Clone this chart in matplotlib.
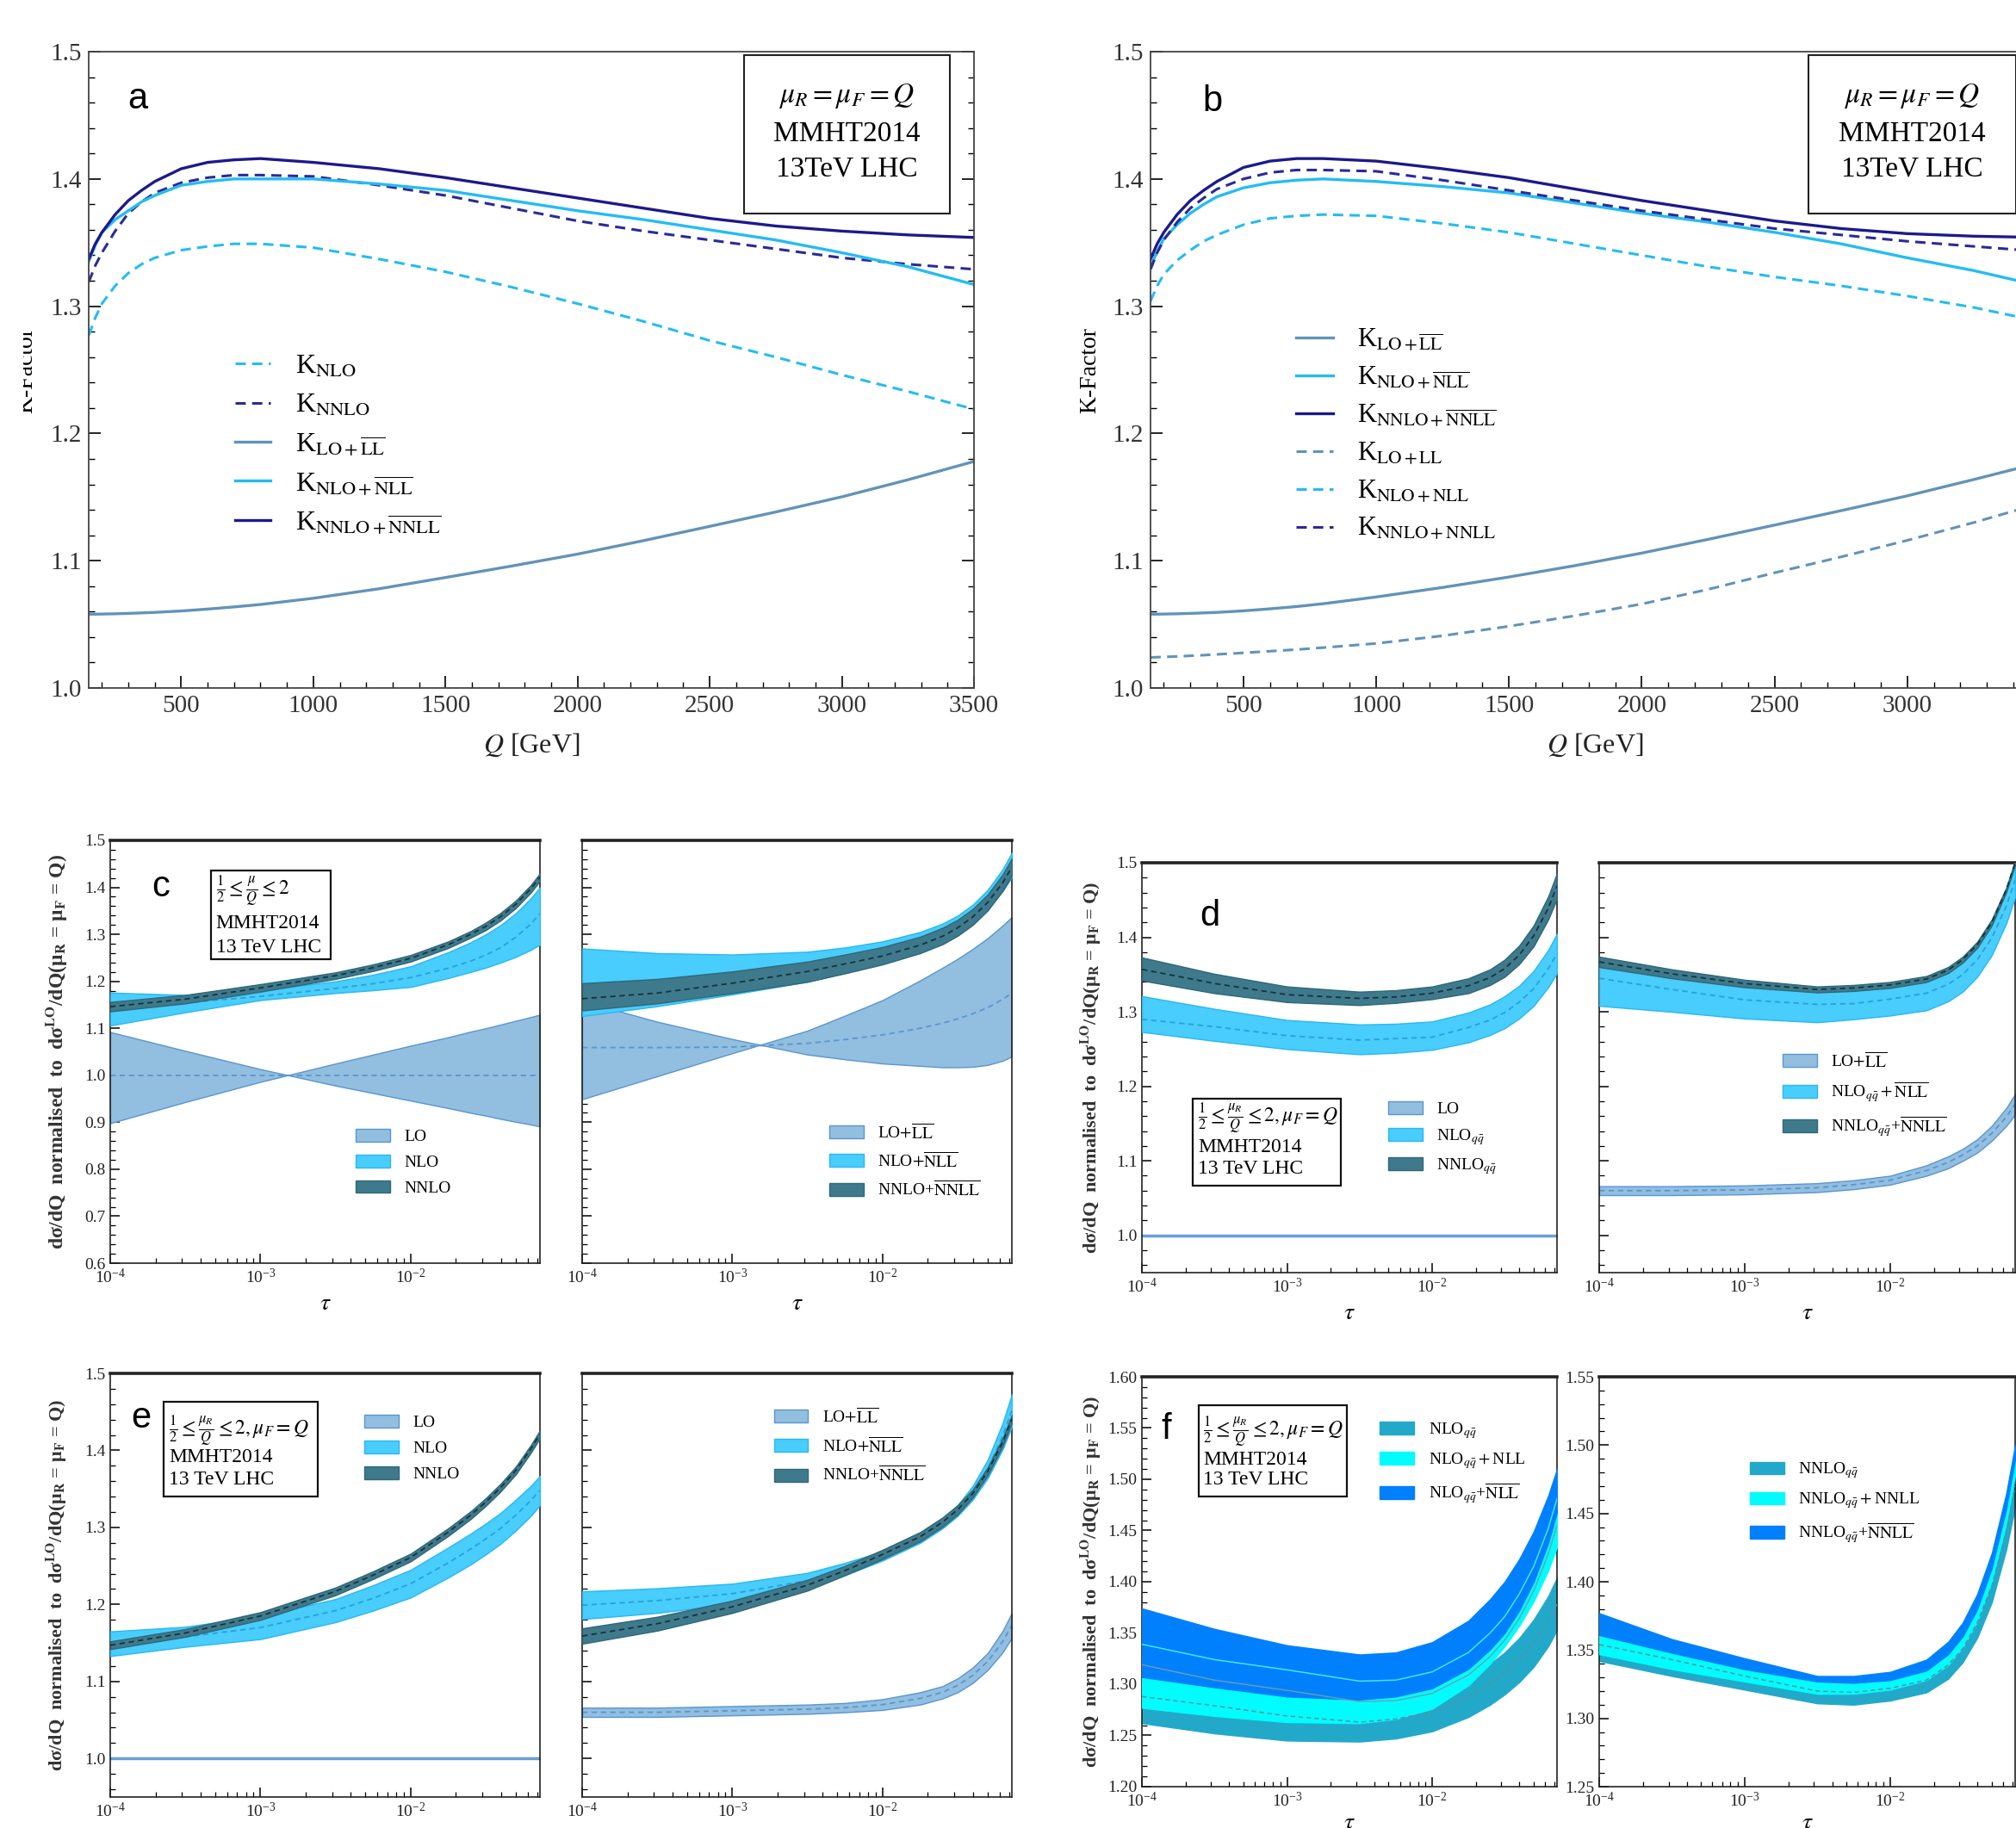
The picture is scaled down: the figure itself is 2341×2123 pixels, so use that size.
import numpy as np
import matplotlib
matplotlib.use("Agg")
import matplotlib.pyplot as plt
from matplotlib.patches import Rectangle
from matplotlib.ticker import MultipleLocator, LogLocator, NullFormatter, FormatStrFormatter
from matplotlib.transforms import Bbox

plt.rcParams['font.family'] = ['Liberation Serif', 'DejaVu Serif']
plt.rcParams['mathtext.fontset'] = 'stix'

W, H = 2341, 2123

# ---------------- panels a / b : K-factor vs Q ----------------
Q = [150, 175, 200, 250, 300, 350, 400, 500, 600, 700, 800, 1000, 1250, 1500, 1750,
     2000, 2250, 2500, 2750, 3000, 3250, 3500]

A_K_NLO = [1.277, 1.291, 1.302, 1.316, 1.326, 1.333, 1.338, 1.344, 1.347, 1.349, 1.349, 1.346,
           1.337, 1.327, 1.315, 1.302, 1.288, 1.273, 1.260, 1.246, 1.233, 1.219]
A_K_NNLO = [1.319, 1.332, 1.342, 1.359, 1.373, 1.382, 1.389, 1.397, 1.401, 1.403, 1.403, 1.402,
            1.395, 1.387, 1.377, 1.367, 1.359, 1.352, 1.345, 1.338, 1.333, 1.329]
A_K_LO_LL = [1.0580, 1.0580, 1.0581, 1.0583, 1.0586, 1.0590, 1.0594, 1.0605, 1.0620, 1.0637,
             1.0656, 1.0705, 1.0780, 1.0868, 1.0958, 1.1052, 1.1158, 1.1270, 1.1383, 1.1502,
             1.1636, 1.1780]
A_K_NLO_NLL = [1.335, 1.348, 1.358, 1.368, 1.375, 1.382, 1.387, 1.395, 1.398, 1.400, 1.400, 1.400,
               1.396, 1.391, 1.383, 1.375, 1.368, 1.360, 1.352, 1.342, 1.331, 1.317]
A_K_NNLO_NNLL = [1.337, 1.349, 1.358, 1.372, 1.383, 1.391, 1.398, 1.408, 1.413, 1.415, 1.416, 1.413,
                 1.408, 1.401, 1.393, 1.385, 1.377, 1.369, 1.363, 1.359, 1.356, 1.354]

B_K_LO_LLbar = [1.0580, 1.0580, 1.0581, 1.0583, 1.0586, 1.0590, 1.0594, 1.0606, 1.0622, 1.0640,
                1.0662, 1.0715, 1.0790, 1.0872, 1.0962, 1.1060, 1.1168, 1.1280, 1.1393, 1.1510,
                1.1638, 1.1770]
B_K_NLO_NLLbar = [1.331, 1.343, 1.353, 1.364, 1.373, 1.380, 1.386, 1.393, 1.397, 1.399, 1.400, 1.398,
                  1.394, 1.389, 1.381, 1.373, 1.366, 1.358, 1.349, 1.338, 1.328, 1.316]
B_K_NNLO_NNLLbar = [1.337, 1.349, 1.358, 1.372, 1.383, 1.391, 1.398, 1.409, 1.414, 1.416, 1.416, 1.414,
                    1.408, 1.401, 1.392, 1.383, 1.375, 1.367, 1.361, 1.357, 1.355, 1.354]
B_K_LO_LL = [1.0240, 1.0242, 1.0244, 1.0248, 1.0253, 1.0258, 1.0264, 1.0276, 1.0289, 1.0302,
             1.0317, 1.0350, 1.0410, 1.0485, 1.0568, 1.0660, 1.0775, 1.0905, 1.1030, 1.1160,
             1.1300, 1.1450]
B_K_NLO_NLL = [1.304, 1.316, 1.325, 1.336, 1.344, 1.351, 1.356, 1.364, 1.369, 1.371, 1.372, 1.371,
               1.365, 1.358, 1.349, 1.340, 1.331, 1.323, 1.316, 1.308, 1.299, 1.288]
B_K_NNLO_NNLL = [1.329, 1.342, 1.352, 1.366, 1.377, 1.385, 1.392, 1.400, 1.405, 1.407, 1.407, 1.406,
                 1.399, 1.391, 1.383, 1.375, 1.368, 1.361, 1.356, 1.351, 1.347, 1.343]

# ---------------- panels c-f : ratio vs tau ----------------
TAU = [1.0e-4, 3.16e-4, 1.0e-3, 3.16e-3, 5.62e-3, 1.0e-2, 1.78e-2, 2.51e-2, 3.16e-2,
       3.98e-2, 5.01e-2, 6.31e-2, 7.25e-2]

# c, fixed order
C_LO_A = [1.092, 1.052, 1.013, 0.978, 0.962, 0.946, 0.930, 0.920, 0.914, 0.907, 0.901, 0.895, 0.891]
C_LO_B = [0.898, 0.943, 0.986, 1.025, 1.044, 1.063, 1.081, 1.093, 1.100, 1.108, 1.116, 1.124, 1.129]
C_LO_MID = [1.0] * 13
C_NLO_LO = [1.106, 1.134, 1.160, 1.175, 1.181, 1.188, 1.207, 1.220, 1.229, 1.240, 1.252, 1.267, 1.278]
C_NLO_HI = [1.176, 1.171, 1.181, 1.200, 1.214, 1.232, 1.262, 1.283, 1.300, 1.320, 1.345, 1.377, 1.400]
C_NLO_MID = [1.141, 1.154, 1.168, 1.185, 1.195, 1.208, 1.228, 1.243, 1.256, 1.272, 1.294, 1.322, 1.344]
C_NNLO_LO = [1.136, 1.153, 1.178, 1.205, 1.222, 1.242, 1.271, 1.293, 1.309, 1.330, 1.356, 1.389, 1.414]
C_NNLO_HI = [1.156, 1.171, 1.194, 1.219, 1.236, 1.256, 1.285, 1.307, 1.325, 1.346, 1.372, 1.405, 1.430]
C_NNLO_MID = [1.146, 1.162, 1.186, 1.212, 1.229, 1.249, 1.278, 1.300, 1.317, 1.338, 1.364, 1.397, 1.422]
# c, resummed
CR_LO_A = [1.158, 1.114, 1.077, 1.044, 1.034, 1.025, 1.020, 1.017, 1.017, 1.018, 1.022, 1.031, 1.040]
CR_LO_B = [0.949, 0.998, 1.047, 1.095, 1.127, 1.160, 1.202, 1.229, 1.248, 1.269, 1.292, 1.319, 1.337]
CR_LO_MID = [1.059, 1.059, 1.060, 1.068, 1.076, 1.086, 1.100, 1.111, 1.120, 1.131, 1.144, 1.162, 1.175]
CR_NLO_LO = [1.126, 1.147, 1.172, 1.199, 1.218, 1.239, 1.265, 1.286, 1.303, 1.325, 1.354, 1.393, 1.422]
CR_NLO_HI = [1.270, 1.260, 1.257, 1.263, 1.272, 1.285, 1.305, 1.323, 1.340, 1.363, 1.395, 1.439, 1.474]
CR_NLO_MID = [1.188, 1.196, 1.205, 1.222, 1.236, 1.252, 1.275, 1.295, 1.313, 1.337, 1.368, 1.411, 1.445]
CR_NNLO_LO = [1.138, 1.153, 1.175, 1.199, 1.217, 1.236, 1.260, 1.279, 1.297, 1.320, 1.351, 1.393, 1.425]
CR_NNLO_HI = [1.196, 1.205, 1.221, 1.242, 1.257, 1.273, 1.295, 1.314, 1.331, 1.354, 1.385, 1.428, 1.462]
CR_NNLO_MID = [1.163, 1.175, 1.196, 1.221, 1.237, 1.254, 1.277, 1.296, 1.314, 1.337, 1.368, 1.410, 1.443]

# d, fixed order (qqbar)
D_LO_LO = [0.999] * 13
D_LO_HI = [1.001] * 13
D_NLO_LO = [1.273, 1.261, 1.250, 1.243, 1.245, 1.249, 1.259, 1.269, 1.278, 1.291, 1.308, 1.333, 1.352]
D_NLO_HI = [1.321, 1.304, 1.289, 1.283, 1.284, 1.287, 1.299, 1.310, 1.321, 1.335, 1.355, 1.383, 1.405]
D_NLO_MID = [1.290, 1.280, 1.268, 1.262, 1.264, 1.266, 1.279, 1.289, 1.299, 1.313, 1.331, 1.358, 1.378]
D_NNLO_LO = [1.342, 1.325, 1.313, 1.309, 1.312, 1.317, 1.325, 1.336, 1.347, 1.364, 1.388, 1.424, 1.452]
D_NNLO_HI = [1.373, 1.351, 1.334, 1.327, 1.329, 1.334, 1.345, 1.357, 1.370, 1.389, 1.416, 1.455, 1.486]
D_NNLO_MID = [1.357, 1.338, 1.323, 1.318, 1.320, 1.325, 1.335, 1.346, 1.358, 1.376, 1.402, 1.439, 1.469]
# d, resummed
DR_LO_LO = [1.054, 1.054, 1.055, 1.058, 1.062, 1.068, 1.080, 1.090, 1.100, 1.111, 1.127, 1.147, 1.162]
DR_LO_HI = [1.066, 1.066, 1.067, 1.070, 1.074, 1.080, 1.094, 1.106, 1.116, 1.129, 1.147, 1.171, 1.190]
DR_LO_MID = [1.060, 1.060, 1.061, 1.064, 1.068, 1.074, 1.087, 1.098, 1.108, 1.120, 1.137, 1.159, 1.176]
DR_NLO_LO = [1.308, 1.300, 1.291, 1.286, 1.290, 1.295, 1.302, 1.314, 1.327, 1.347, 1.376, 1.419, 1.454]
DR_NLO_HI = [1.373, 1.351, 1.338, 1.332, 1.334, 1.338, 1.347, 1.360, 1.373, 1.393, 1.422, 1.465, 1.499]
DR_NLO_MID = [1.345, 1.330, 1.316, 1.310, 1.311, 1.317, 1.325, 1.337, 1.350, 1.370, 1.399, 1.442, 1.477]
DR_NNLO_LO = [1.360, 1.345, 1.333, 1.326, 1.328, 1.332, 1.340, 1.352, 1.366, 1.386, 1.416, 1.461, 1.497]
DR_NNLO_HI = [1.374, 1.357, 1.343, 1.334, 1.336, 1.340, 1.348, 1.360, 1.374, 1.394, 1.424, 1.467, 1.503]
DR_NNLO_MID = [1.367, 1.351, 1.338, 1.330, 1.332, 1.336, 1.344, 1.356, 1.370, 1.390, 1.420, 1.464, 1.500]

# e, fixed order
E_NLO_LO = [1.133, 1.145, 1.155, 1.177, 1.192, 1.209, 1.235, 1.252, 1.265, 1.279, 1.296, 1.315, 1.329]
E_NLO_HI = [1.165, 1.171, 1.185, 1.207, 1.225, 1.245, 1.274, 1.292, 1.305, 1.319, 1.336, 1.354, 1.367]
E_NLO_MID = [1.149, 1.158, 1.170, 1.192, 1.208, 1.227, 1.254, 1.272, 1.285, 1.299, 1.316, 1.335, 1.348]
E_NNLO_LO = [1.142, 1.158, 1.180, 1.212, 1.233, 1.256, 1.289, 1.311, 1.328, 1.347, 1.369, 1.397, 1.416]
E_NNLO_HI = [1.152, 1.168, 1.190, 1.222, 1.243, 1.266, 1.299, 1.321, 1.338, 1.357, 1.379, 1.407, 1.426]
E_NNLO_MID = [1.147, 1.163, 1.185, 1.217, 1.238, 1.261, 1.294, 1.316, 1.333, 1.352, 1.374, 1.402, 1.421]
# e, resummed
ER_LO_LO = [1.054, 1.054, 1.056, 1.058, 1.060, 1.063, 1.070, 1.078, 1.086, 1.098, 1.115, 1.138, 1.157]
ER_LO_HI = [1.066, 1.066, 1.068, 1.070, 1.072, 1.077, 1.086, 1.094, 1.104, 1.118, 1.137, 1.166, 1.189]
ER_LO_MID = [1.060, 1.060, 1.062, 1.064, 1.066, 1.070, 1.078, 1.086, 1.095, 1.108, 1.126, 1.152, 1.173]
ER_NLO_LO = [1.181, 1.189, 1.201, 1.221, 1.238, 1.257, 1.280, 1.299, 1.315, 1.336, 1.364, 1.402, 1.431]
ER_NLO_HI = [1.217, 1.221, 1.227, 1.241, 1.254, 1.269, 1.291, 1.311, 1.329, 1.354, 1.388, 1.436, 1.473]
ER_NLO_MID = [1.199, 1.205, 1.214, 1.231, 1.246, 1.263, 1.286, 1.305, 1.322, 1.345, 1.376, 1.419, 1.452]
ER_NNLO_LO = [1.149, 1.166, 1.189, 1.218, 1.238, 1.259, 1.282, 1.301, 1.317, 1.339, 1.368, 1.406, 1.436]
ER_NNLO_HI = [1.169, 1.184, 1.205, 1.232, 1.250, 1.271, 1.294, 1.313, 1.329, 1.349, 1.378, 1.416, 1.446]
ER_NNLO_MID = [1.159, 1.175, 1.197, 1.225, 1.244, 1.265, 1.288, 1.307, 1.323, 1.344, 1.373, 1.411, 1.441]

# f, NLO_qqbar with / without resummation
F_FO_LO = [1.262, 1.252, 1.245, 1.244, 1.247, 1.254, 1.268, 1.280, 1.290, 1.302, 1.317, 1.337, 1.353]
F_FO_HI = [1.314, 1.306, 1.293, 1.283, 1.285, 1.292, 1.307, 1.320, 1.331, 1.345, 1.363, 1.386, 1.404]
F_FO_MID = [1.288, 1.279, 1.269, 1.263, 1.266, 1.273, 1.288, 1.300, 1.311, 1.324, 1.340, 1.362, 1.378]
F_RS_LO = [1.277, 1.269, 1.263, 1.262, 1.266, 1.276, 1.299, 1.320, 1.337, 1.357, 1.381, 1.411, 1.434]
F_RS_HI = [1.345, 1.330, 1.315, 1.305, 1.305, 1.310, 1.328, 1.348, 1.364, 1.388, 1.416, 1.454, 1.476]
F_RS_MID = [1.319, 1.304, 1.294, 1.283, 1.284, 1.291, 1.309, 1.327, 1.343, 1.364, 1.391, 1.427, 1.455]
F_RB_LO = [1.307, 1.297, 1.288, 1.285, 1.288, 1.296, 1.315, 1.334, 1.350, 1.372, 1.400, 1.438, 1.468]
F_RB_HI = [1.374, 1.354, 1.338, 1.329, 1.331, 1.341, 1.362, 1.383, 1.400, 1.422, 1.449, 1.484, 1.510]
F_RB_MID = [1.339, 1.324, 1.314, 1.303, 1.304, 1.312, 1.331, 1.350, 1.366, 1.388, 1.415, 1.452, 1.481]
# f, NNLO_qqbar
FR_FO_LO = [1.342, 1.331, 1.321, 1.311, 1.310, 1.313, 1.319, 1.329, 1.341, 1.359, 1.385, 1.424, 1.455]
FR_FO_HI = [1.366, 1.355, 1.341, 1.329, 1.328, 1.331, 1.338, 1.349, 1.362, 1.381, 1.410, 1.451, 1.485]
FR_FO_MID = [1.354, 1.343, 1.331, 1.320, 1.319, 1.322, 1.328, 1.339, 1.351, 1.370, 1.397, 1.437, 1.470]
FR_RS_LO = [1.347, 1.336, 1.327, 1.318, 1.318, 1.321, 1.328, 1.339, 1.352, 1.371, 1.400, 1.443, 1.478]
FR_RS_HI = [1.366, 1.352, 1.340, 1.330, 1.330, 1.332, 1.340, 1.352, 1.366, 1.386, 1.416, 1.460, 1.495]
FR_RB_LO = [1.361, 1.348, 1.336, 1.327, 1.326, 1.328, 1.335, 1.347, 1.360, 1.380, 1.410, 1.454, 1.490]
FR_RB_HI = [1.377, 1.358, 1.344, 1.331, 1.331, 1.334, 1.343, 1.356, 1.370, 1.391, 1.421, 1.465, 1.500]

# colours
C_LIGHT = '#24bcf2'
C_NAVY = '#2b2a98'
C_NAVY_D = '#1c1a8a'
C_STEEL = '#6293b8'
LO_FILL, LO_EDGE = '#92bee0', '#5a96cf'
NLO_FILL, NLO_EDGE = '#48cdfc', '#2ab8f0'
NNLO_FILL, NNLO_EDGE = '#3e7a8c', '#2f6878'
F_TEAL, F_CYAN, F_BLUE = '#22a9c9', '#00fcfc', '#0080fc'

YLAB = ('dσ/dQ  normalised  to  dσ$^{\\mathbf{LO}}$/dQ(μ$_{\\mathbf{R}}$ = μ$_{\\mathbf{F}}$ = Q)')

fig = plt.figure(figsize=(W / 100, H / 100), dpi=100)


def axes_px(x0, y0, x1, y1):
    return fig.add_axes([x0 / W, 1 - y1 / H, (x1 - x0) / W, (y1 - y0) / H])


def style_k(ax):
    ax.set_xlim(150, 3500)
    ax.set_ylim(1.0, 1.5)
    ax.xaxis.set_major_locator(MultipleLocator(500))
    ax.xaxis.set_minor_locator(MultipleLocator(100))
    ax.yaxis.set_major_locator(MultipleLocator(0.1))
    ax.yaxis.set_minor_locator(MultipleLocator(0.02))
    ax.yaxis.set_major_formatter(FormatStrFormatter('%.1f'))
    ax.tick_params(which='both', direction='in', right=True, labelsize=21,
                   labelcolor='#333333', pad=6)
    ax.tick_params(which='major', length=10, width=1.2)
    ax.tick_params(which='minor', length=5, width=1.0)
    for s in ax.spines.values():
        s.set_linewidth(1.3)
        s.set_color('#444444')
    ax.set_xlabel(r'$Q$ [GeV]', fontsize=23, labelpad=12, color='#222222')


def info_k(ax, letter, lx, ly):
    ax.add_patch(Rectangle((0.740, 0.746), 0.233, 0.249, transform=ax.transAxes,
                           fc='white', ec='#222222', lw=1.5, zorder=6))
    for t, yy in zip([r'$\mu_R = \mu_F = Q$', 'MMHT2014', '13TeV LHC'], [0.930, 0.871, 0.816]):
        ax.text(0.856, yy, t, transform=ax.transAxes, fontsize=24, ha='center', va='center', zorder=7)
    ax.text(lx, ly, letter, transform=ax.transAxes, fontsize=30, family='Liberation Sans',
            ha='center', va='center')


def dashed(ax, y, color, label):
    ax.plot(Q, y, color=color, lw=2.2, dashes=(3.9, 2.4), label=label)


def solid(ax, y, color, label):
    ax.plot(Q, y, color=color, lw=2.4, label=label)


# panel a
ax = axes_px(103, 60, 1131, 799)
style_k(ax)
dashed(ax, A_K_NLO, C_LIGHT, r'K$_{\rm NLO}$')
dashed(ax, A_K_NNLO, C_NAVY, r'K$_{\rm NNLO}$')
solid(ax, A_K_LO_LL, C_STEEL, r'K$_{\rm LO+\overline{LL}}$')
solid(ax, A_K_NLO_NLL, C_LIGHT, r'K$_{\rm NLO+\overline{NLL}}$')
solid(ax, A_K_NNLO_NNLL, C_NAVY_D, r'K$_{\rm NNLO+\overline{NNLL}}$')
ax.legend(loc='upper left', bbox_to_anchor=(0.165, 0.525), frameon=False, fontsize=23,
          handlelength=1.3, handletextpad=0.9, labelspacing=0.5, borderpad=0, borderaxespad=0)
info_k(ax, 'a', 0.055, 0.926)
kf = fig.text(31 / W, 1 - 430 / H, 'K-Factor', rotation=90, ha='center', va='center', fontsize=20)
kf.set_clip_box(Bbox.from_extents(27, 0, W, H))

# panel b
ax = axes_px(1336, 60, 2369, 799)
style_k(ax)
solid(ax, B_K_LO_LLbar, C_STEEL, r'K$_{\rm LO+\overline{LL}}$')
solid(ax, B_K_NLO_NLLbar, C_LIGHT, r'K$_{\rm NLO+\overline{NLL}}$')
solid(ax, B_K_NNLO_NNLLbar, C_NAVY_D, r'K$_{\rm NNLO+\overline{NNLL}}$')
dashed(ax, B_K_LO_LL, C_STEEL, r'K$_{\rm LO+LL}$')
dashed(ax, B_K_NLO_NLL, C_LIGHT, r'K$_{\rm NLO+NLL}$')
dashed(ax, B_K_NNLO_NNLL, C_NAVY, r'K$_{\rm NNLO+NNLL}$')
ax.legend(loc='upper left', bbox_to_anchor=(0.164, 0.567), frameon=False, fontsize=22,
          handlelength=1.4, handletextpad=0.9, labelspacing=0.45, borderpad=0, borderaxespad=0)
info_k(ax, 'b', 0.070, 0.922)
ax.set_ylabel('K-Factor', fontsize=20)
ax.yaxis.set_label_coords(-0.056, 0.5)


# ---------------- helpers for c-f ----------------
def style_tau(ax, ylim, major, minor, fmt, labelleft=True, ylabel=False, ylab_fs=16,
              ylab_x=-0.096, xlabel=True, xpad=6):
    ax.set_xscale('log')
    ax.set_xlim(1e-4, 0.0725)
    ax.set_ylim(*ylim)
    ax.xaxis.set_major_locator(LogLocator(base=10, numticks=10))
    ax.xaxis.set_minor_locator(LogLocator(base=10, subs=np.arange(2, 10), numticks=10))
    ax.xaxis.set_minor_formatter(NullFormatter())
    ax.yaxis.set_major_locator(MultipleLocator(major))
    ax.yaxis.set_minor_locator(MultipleLocator(minor))
    ax.yaxis.set_major_formatter(FormatStrFormatter(fmt))
    ax.tick_params(which='both', direction='in', labelsize=14, labelleft=labelleft,
                   labelcolor='#222222', pad=4)
    ax.tick_params(which='major', length=8, width=1.1)
    ax.tick_params(which='minor', length=4, width=0.9)
    for s in ax.spines.values():
        s.set_linewidth(1.2)
        s.set_color('#222222')
    ax.spines['top'].set_linewidth(2.6)
    if xlabel:
        ax.set_xlabel(r'$\tau$', fontsize=20, labelpad=xpad)
    if ylabel:
        ax.set_ylabel(YLAB, fontsize=ylab_fs, fontweight='bold', color='#333333')
        ax.yaxis.set_label_coords(ylab_x, 0.5)


def band(ax, lo, hi, fill, edge, label, z, mid=None, mid_color=None):
    ax.fill_between(TAU, lo, hi, facecolor=fill, edgecolor=edge, lw=1.0, label=label, zorder=z)
    if mid is not None:
        ax.plot(TAU, mid, color=mid_color, lw=1.3, dashes=(3.5, 2.5), zorder=z + 0.5)


def info_tau(ax, box, tx, ys, first, fs=17):
    x0, y0, x1, y1 = box
    ax.add_patch(Rectangle((x0, y0), x1 - x0, y1 - y0, transform=ax.transAxes,
                           fc='white', ec='#111111', lw=1.6, zorder=8))
    for t, yy in zip([first, 'MMHT2014', '13 TeV LHC'], ys):
        ax.text(tx, yy, t, transform=ax.transAxes, fontsize=fs, ha='left', va='center', zorder=9)


def leg_tau(ax, x, y, spacing=0.6, fs=14):
    ax.legend(loc='upper left', bbox_to_anchor=(x, y), frameon=False, fontsize=fs,
              handlelength=2.05, handleheight=0.8, handletextpad=0.85, labelspacing=spacing,
              borderpad=0, borderaxespad=0)


def letter(ax, s, x, y):
    ax.text(x, y, s, transform=ax.transAxes, fontsize=30, family='Liberation Sans',
            ha='center', va='center', zorder=9)


MU1 = r'$\frac{1}{2}\leq\frac{\mu}{Q}\leq2$'
MU2 = r'$\frac{1}{2}\leq\frac{\mu_R}{Q}\leq2,\mu_F=Q$'
LLB = r'LO$+\overline{\rm LL}$'
NLLB = r'NLO$+\overline{\rm NLL}$'
NNLLB = r'NNLO+$\overline{\rm NNLL}$'

# panel c
ax = axes_px(128, 976, 627, 1467)
style_tau(ax, (0.6, 1.5), 0.1, 0.02, '%.1f', ylabel=True, ylab_fs=17)
band(ax, C_LO_A, C_LO_B, LO_FILL, LO_EDGE, 'LO', 2, C_LO_MID, LO_EDGE)
band(ax, C_NLO_LO, C_NLO_HI, NLO_FILL, NLO_EDGE, 'NLO', 3, C_NLO_MID, '#2aa0d8')
band(ax, C_NNLO_LO, C_NNLO_HI, NNLO_FILL, NNLO_EDGE, 'NNLO', 4, C_NNLO_MID, '#17343e')
leg_tau(ax, 0.571, 0.318, 0.6)
info_tau(ax, (0.234, 0.719, 0.513, 0.929), 0.246, [0.878, 0.804, 0.747], MU1)
letter(ax, 'c', 0.118, 0.890)

ax = axes_px(676, 976, 1175, 1467)
style_tau(ax, (0.6, 1.5), 0.1, 0.02, '%.1f', labelleft=False)
band(ax, CR_LO_A, CR_LO_B, LO_FILL, LO_EDGE, LLB, 2, CR_LO_MID, LO_EDGE)
band(ax, CR_NLO_LO, CR_NLO_HI, NLO_FILL, NLO_EDGE, NLLB, 3, CR_NLO_MID, '#2aa0d8')
band(ax, CR_NNLO_LO, CR_NNLO_HI, NNLO_FILL, NNLO_EDGE, NNLLB, 4, CR_NNLO_MID, '#17343e')
leg_tau(ax, 0.575, 0.333, 0.6)

# panel d
ax = axes_px(1326, 1002, 1808, 1478)
style_tau(ax, (0.95, 1.5), 0.1, 0.02, '%.1f', ylabel=True, ylab_x=-0.093)
band(ax, D_LO_LO, D_LO_HI, LO_FILL, LO_EDGE, 'LO', 2)
band(ax, D_NLO_LO, D_NLO_HI, NLO_FILL, NLO_EDGE, r'NLO$_{q\bar{q}}$', 3, D_NLO_MID, '#2aa0d8')
band(ax, D_NNLO_LO, D_NNLO_HI, NNLO_FILL, NNLO_EDGE, r'NNLO$_{q\bar{q}}$', 4, D_NNLO_MID, '#17343e')
leg_tau(ax, 0.593, 0.418, 0.6)
info_tau(ax, (0.122, 0.212, 0.479, 0.424), 0.135, [0.374, 0.305, 0.254], MU2)
letter(ax, 'd', 0.164, 0.870)

ax = axes_px(1857, 1002, 2340, 1478)
style_tau(ax, (0.95, 1.5), 0.1, 0.02, '%.1f', labelleft=False)
band(ax, DR_LO_LO, DR_LO_HI, LO_FILL, LO_EDGE, LLB, 2, DR_LO_MID, LO_EDGE)
band(ax, DR_NLO_LO, DR_NLO_HI, NLO_FILL, NLO_EDGE, r'NLO$_{q\bar{q}}+\overline{\rm NLL}$', 3,
     DR_NLO_MID, '#2aa0d8')
band(ax, DR_NNLO_LO, DR_NNLO_HI, NNLO_FILL, NNLO_EDGE, r'NNLO$_{q\bar{q}}$+$\overline{\rm NNLL}$', 4,
     DR_NNLO_MID, '#17343e')
leg_tau(ax, 0.441, 0.541, 0.62)

# panel e
ax = axes_px(128, 1595, 627, 2087)
style_tau(ax, (0.95, 1.5), 0.1, 0.02, '%.1f', ylabel=True, xlabel=False)
band(ax, D_LO_LO, D_LO_HI, LO_FILL, LO_EDGE, 'LO', 2)
band(ax, E_NLO_LO, E_NLO_HI, NLO_FILL, NLO_EDGE, 'NLO', 3, E_NLO_MID, '#2aa0d8')
band(ax, E_NNLO_LO, E_NNLO_HI, NNLO_FILL, NNLO_EDGE, 'NNLO', 4, E_NNLO_MID, '#17343e')
leg_tau(ax, 0.591, 0.902, 0.6)
info_tau(ax, (0.124, 0.709, 0.483, 0.933), 0.136, [0.863, 0.801, 0.750], MU2)
letter(ax, 'e', 0.072, 0.894)

ax = axes_px(676, 1595, 1175, 2087)
style_tau(ax, (0.95, 1.5), 0.1, 0.02, '%.1f', labelleft=False, xlabel=False)
band(ax, ER_LO_LO, ER_LO_HI, LO_FILL, LO_EDGE, LLB, 2, ER_LO_MID, LO_EDGE)
band(ax, ER_NLO_LO, ER_NLO_HI, NLO_FILL, NLO_EDGE, NLLB, 3, ER_NLO_MID, '#2aa0d8')
band(ax, ER_NNLO_LO, ER_NNLO_HI, NNLO_FILL, NNLO_EDGE, NNLLB, 4, ER_NNLO_MID, '#17343e')
leg_tau(ax, 0.446, 0.921, 0.62)

# panel f
ax = axes_px(1326, 1599, 1808, 2075)
style_tau(ax, (1.20, 1.60), 0.05, 0.01, '%.2f', ylabel=True, ylab_x=-0.093, xpad=2)
band(ax, F_FO_LO, F_FO_HI, F_TEAL, F_TEAL, r'NLO$_{q\bar{q}}$', 2)
band(ax, F_RS_LO, F_RS_HI, F_CYAN, F_CYAN, r'NLO$_{q\bar{q}}+$NLL', 3)
band(ax, F_RB_LO, F_RB_HI, F_BLUE, F_BLUE, r'NLO$_{q\bar{q}}$+$\overline{\rm NLL}$', 4)
ax.plot(TAU, F_FO_MID, color='#5a8fa8', lw=1.1, dashes=(3.5, 2.5), zorder=5)
ax.plot(TAU, F_RS_MID, color='#6aa0b0', lw=1.0, zorder=5)
ax.plot(TAU, F_RB_MID, color='#40e8ff', lw=1.1, zorder=5)
leg_tau(ax, 0.573, 0.893, 0.62)
info_tau(ax, (0.136, 0.708, 0.494, 0.931), 0.148, [0.863, 0.798, 0.750], MU2)
letter(ax, 'f', 0.058, 0.872)

ax = axes_px(1857, 1599, 2340, 2075)
style_tau(ax, (1.25, 1.55), 0.05, 0.01, '%.2f', xpad=2)
band(ax, FR_FO_LO, FR_FO_HI, F_TEAL, F_TEAL, r'NNLO$_{q\bar{q}}$', 2)
band(ax, FR_RS_LO, FR_RS_HI, F_CYAN, F_CYAN, r'NNLO$_{q\bar{q}}+$NNLL', 3)
band(ax, FR_RB_LO, FR_RB_HI, F_BLUE, F_BLUE, r'NNLO$_{q\bar{q}}$+$\overline{\rm NNLL}$', 4)
ax.plot(TAU, FR_FO_MID, color='#5a8fa8', lw=1.1, dashes=(3.5, 2.5), zorder=5)
leg_tau(ax, 0.362, 0.795, 0.62)

fig.savefig('out.png', dpi=100)
